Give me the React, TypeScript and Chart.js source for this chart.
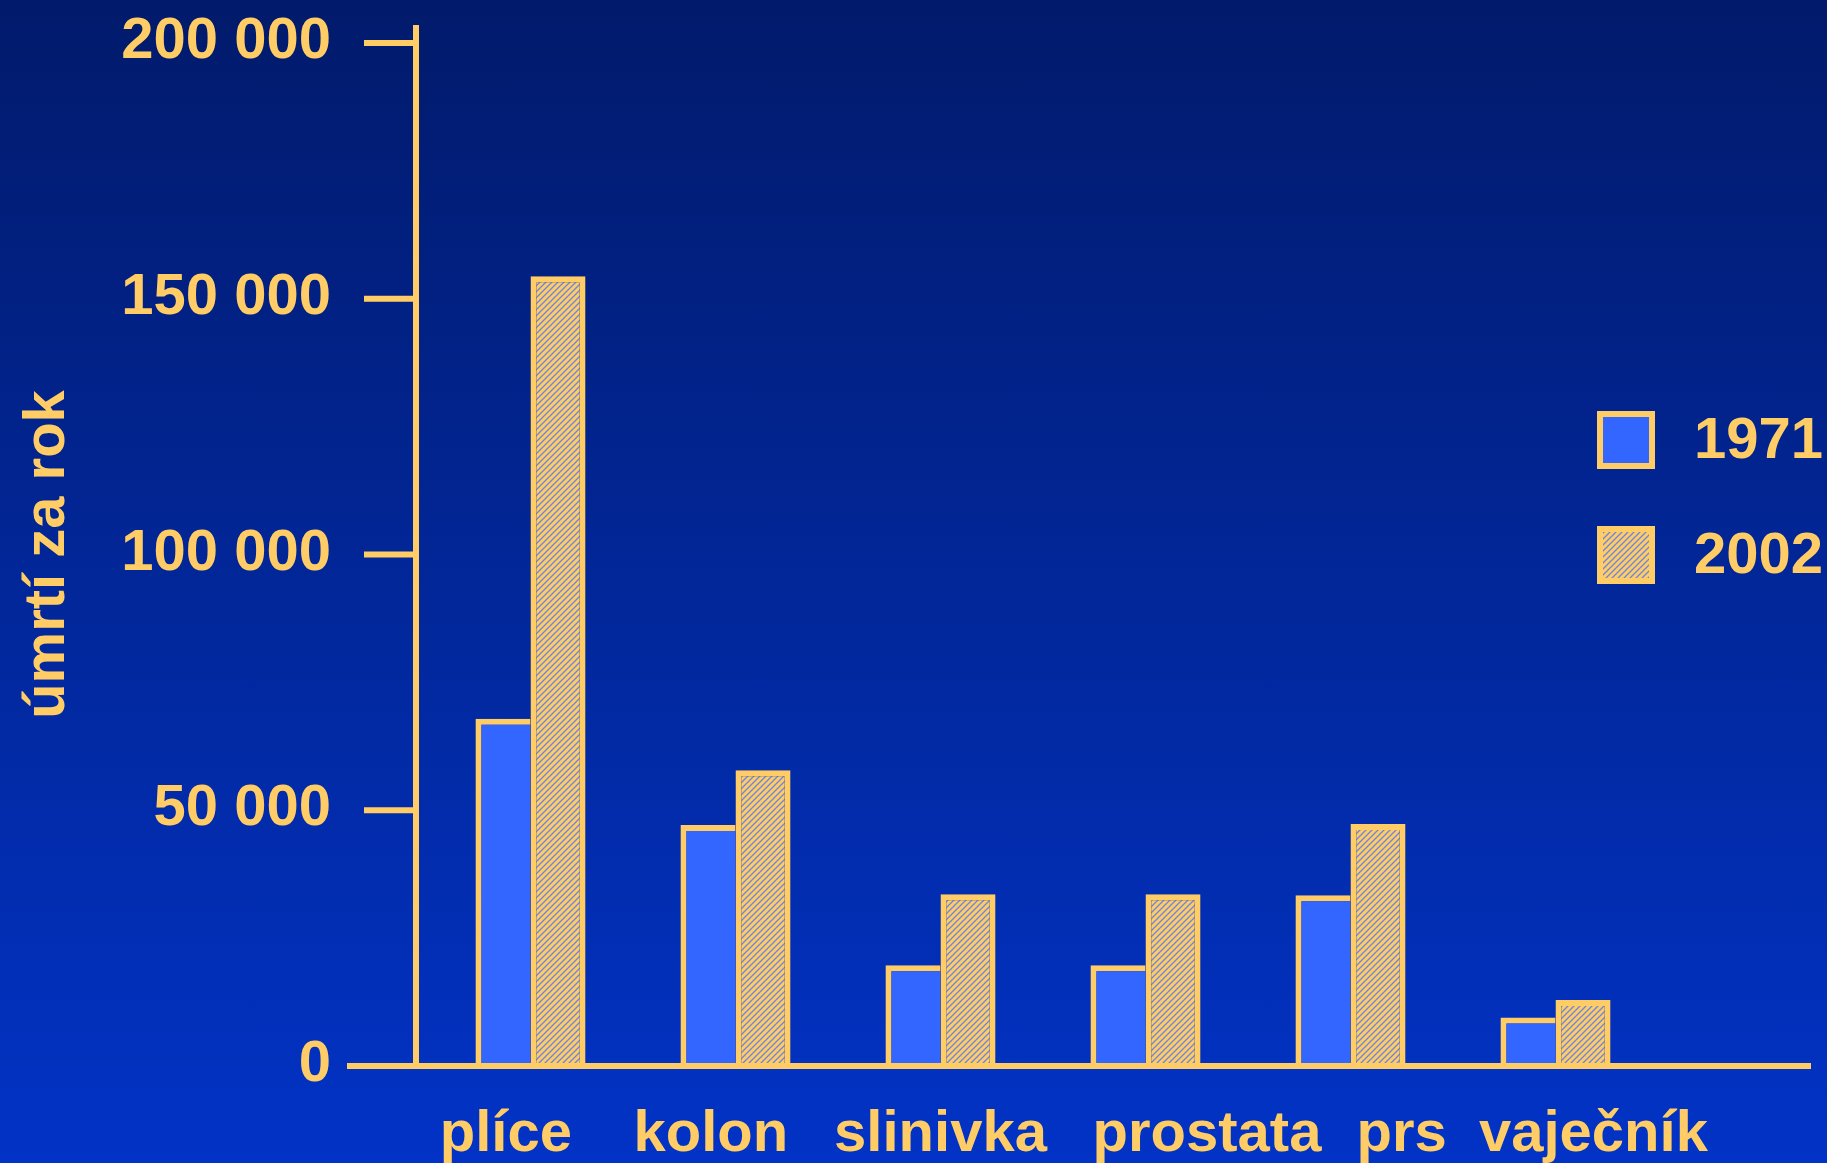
import React, { useEffect, useRef } from "react";
import { Chart, registerables } from "chart.js";

Chart.register(...registerables);

// ---- data ----
const categories = ["plíce", "kolon", "slinivka", "prostata", "prs", "vaječník"];
const seriesLabels = ["1971", "2002"];
const deaths1971 = [67900, 47100, 19700, 19700, 33400, 9500];
const deaths2002 = [154400, 57800, 33600, 33600, 47300, 12900];
const yTicks = [0, 50000, 100000, 150000, 200000];
const yTitle = "úmrtí za rok";

// ---- styles ----
const GOLD = "#ffcc66";
const BLUE_BAR = "#3366ff";
const HATCH_LINE = "#6a86e2";
const FONT = "'Liberation Sans', Arial, Helvetica, sans-serif";
const FONT_SIZE = 58;
// label nudges as a fraction of the category width (labels in the slide are not centred on the bars)
const LABEL_NUDGE = [-0.12, -0.12, 0, 0.3, 0.25, 0.185];

function fmt(v: number): string {
  return String(v).replace(/\B(?=(\d{3})+(?!\d))/g, " ");
}

function makeHatch(ctx: CanvasRenderingContext2D): CanvasPattern | string {
  const c = document.createElement("canvas");
  c.width = 6;
  c.height = 6;
  const g = c.getContext("2d");
  if (!g) return GOLD;
  g.fillStyle = GOLD;
  g.fillRect(0, 0, 6, 6);
  g.strokeStyle = HATCH_LINE;
  g.lineWidth = 1.3;
  g.beginPath();
  g.moveTo(0, 6);
  g.lineTo(6, 0);
  g.moveTo(-1, 1);
  g.lineTo(1, -1);
  g.moveTo(5, 7);
  g.lineTo(7, 5);
  g.stroke();
  return ctx.createPattern(c, "repeat") || GOLD;
}

const axisPlugin = {
  id: "slideAxes",
  afterDatasetsDraw(chart: any) {
    const { ctx, chartArea, scales } = chart;
    const y = scales.y;
    const axisX = chartArea.left - 12;
    const base = y.getPixelForValue(0);
    ctx.save();
    ctx.strokeStyle = GOLD;
    ctx.lineWidth = 6;
    ctx.lineCap = "butt";
    // vertical axis
    ctx.beginPath();
    ctx.moveTo(axisX, chartArea.top - 18);
    ctx.lineTo(axisX, base);
    ctx.stroke();
    // tick marks
    yTicks.forEach((v) => {
      const py = y.getPixelForValue(v);
      ctx.beginPath();
      ctx.moveTo(axisX - 52, py);
      ctx.lineTo(axisX, py);
      ctx.stroke();
    });
    // baseline
    ctx.beginPath();
    ctx.moveTo(chartArea.left - 81, base);
    ctx.lineTo(chart.width - 16, base);
    ctx.stroke();
    ctx.restore();
  },
  afterDraw(chart: any) {
    const { ctx, scales } = chart;
    const x = scales.x;
    const y = scales.y;
    const base = y.getPixelForValue(0);
    const catW = x.getPixelForValue(1) - x.getPixelForValue(0);
    ctx.save();
    ctx.fillStyle = GOLD;
    ctx.font = `bold ${FONT_SIZE}px ${FONT}`;
    ctx.textAlign = "center";
    ctx.textBaseline = "alphabetic";
    categories.forEach((c, i) => {
      const px = x.getPixelForValue(i) + (LABEL_NUDGE[i] || 0) * catW;
      ctx.fillText(c, px, base + 85);
    });
    // legend
    const boxLeft = chart.width - 230;
    const boxSize = 58;
    chart.data.datasets.forEach((ds: any, i: number) => {
      const top = 411 + i * 115;
      ctx.fillStyle = ds.backgroundColor;
      ctx.fillRect(boxLeft, top, boxSize, boxSize);
      ctx.strokeStyle = GOLD;
      ctx.lineWidth = 6;
      ctx.strokeRect(boxLeft + 3, top + 3, boxSize - 6, boxSize - 6);
      ctx.fillStyle = GOLD;
      ctx.textAlign = "left";
      ctx.textBaseline = "middle";
      ctx.fillText(ds.label, boxLeft + 97, top + boxSize / 2 + 2);
    });
    ctx.restore();
  },
};

export default function App() {
  const ref = useRef<HTMLCanvasElement | null>(null);
  useEffect(() => {
    const canvas = ref.current;
    if (!canvas) return;
    const ctx = canvas.getContext("2d");
    if (!ctx) return;
    const hatch = makeHatch(ctx);
    const chart = new Chart(canvas, {
      type: "bar",
      data: {
        labels: categories,
        datasets: [
          {
            label: seriesLabels[0],
            data: deaths1971,
            backgroundColor: BLUE_BAR,
            borderColor: GOLD,
            borderWidth: { top: 6, left: 6, right: 0, bottom: 0 },
            borderSkipped: false,
            barPercentage: 1,
            categoryPercentage: 0.537,
          },
          {
            label: seriesLabels[1],
            data: deaths2002,
            backgroundColor: hatch as any,
            borderColor: GOLD,
            borderWidth: { top: 6, left: 6, right: 6, bottom: 0 },
            borderSkipped: false,
            barPercentage: 1,
            categoryPercentage: 0.537,
          },
        ],
      },
      options: {
        responsive: false,
        animation: false,
        layout: { padding: { left: 0, top: 43, right: 169, bottom: 97 } },
        plugins: {
          legend: { display: false },
          tooltip: { enabled: false },
        },
        scales: {
          x: {
            grid: { display: false, drawTicks: false },
            border: { display: false },
            ticks: { display: false },
          },
          y: {
            min: 0,
            max: 200000,
            afterBuildTicks: (scale: any) => {
              scale.ticks = yTicks.map((v) => ({ value: v }));
            },
            afterFit: (scale: any) => {
              scale.width = 428;
            },
            grid: { display: false, drawTicks: true, tickLength: 97 },
            border: { display: false },
            ticks: {
              padding: 0,
              labelOffset: -1,
              color: GOLD,
              font: { family: FONT, size: FONT_SIZE, weight: "bold" },
              callback: (v: any) => fmt(Number(v)),
            },
            title: {
              display: true,
              text: yTitle,
              color: GOLD,
              font: { family: FONT, size: FONT_SIZE, weight: "bold" },
              padding: { top: 13, bottom: 0 },
            },
          },
        },
      },
      plugins: [axisPlugin],
    });
    return () => chart.destroy();
  }, []);
  return (
    <div
      style={{
        position: "fixed",
        left: 0,
        top: 0,
        width: 1827,
        height: 1163,
        background: "linear-gradient(to bottom, #011a6b 0%, #0233c6 100%)",
      }}
    >
      <canvas ref={ref} width={1827} height={1163} style={{ display: "block" }} />
    </div>
  );
}
